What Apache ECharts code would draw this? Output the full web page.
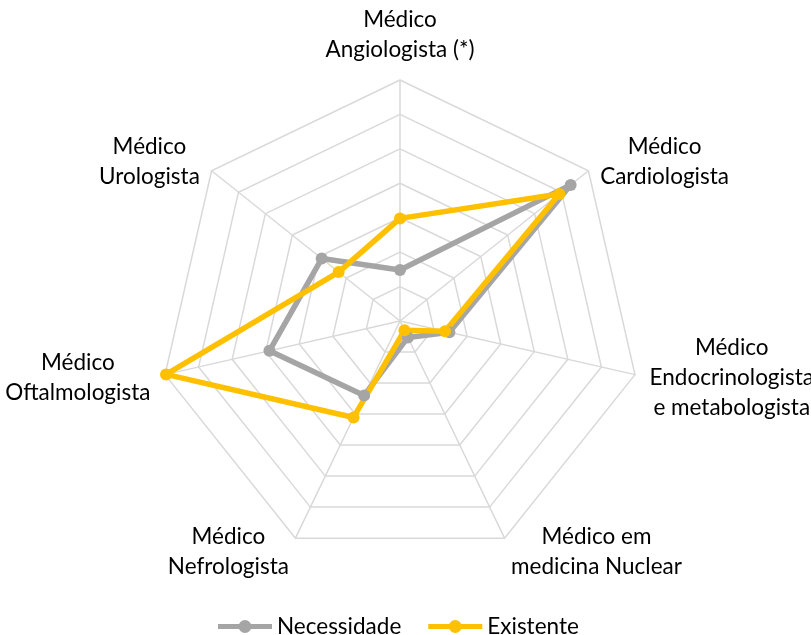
<!DOCTYPE html>
<html><head><meta charset="utf-8">
<script src="https://cdn.jsdelivr.net/npm/echarts@6/dist/echarts.min.js"></script>
<style>html,body{margin:0;padding:0;background:#fff}#c{width:811px;height:635px}</style>
</head><body><div id="c"></div>
<script>
// Categories in ECharts order (counter-clockwise from top)
const categories = [
  'Médico\nAngiologista (*)',
  'Médico\nUrologista',
  'Médico\nOftalmologista',
  'Médico\nNefrologista',
  'Médico em\nmedicina Nuclear',
  'Médico\nEndocrinologista\ne metabologista',
  'Médico\nCardiologista'
];
const necessidade = [1.48, 2.91, 3.89, 2.40, 0.53, 1.47, 6.34];
const existente   = [2.98, 2.28, 6.97, 3.11, 0.30, 1.34, 5.92];
const seriesNames = ['Necessidade', 'Existente'];
const axisMax = 7;

const ctx = document.createElement('canvas').getContext('2d');
ctx.font = '100px Lato';
const fs = Math.round(150 / ctx.measureText('Angiologista (*)').width * 100 * 2) / 2;

const legendIcon = 'path://M0,4H54V9H0Z M33.5,6.5A6.5,6.5,0,1,1,20.5,6.5A6.5,6.5,0,1,1,33.5,6.5Z';
const colors = ['#A5A5A5', '#FFC000'];

const chart = echarts.init(document.getElementById('c'));
chart.setOption({
  animation: false,
  color: colors,
  textStyle: { fontFamily: 'Lato' },
  legend: {
    bottom: -3,
    left: 218,
    padding: 0,
    itemWidth: 54,
    itemHeight: 13,
    itemGap: 27,
    textStyle: { fontSize: fs, color: '#000', fontFamily: 'Lato' },
    data: seriesNames.map((n) => ({ name: n, icon: legendIcon }))
  },
  radar: {
    center: [400, 321],
    radius: 241,
    startAngle: 90,
    splitNumber: 7,
    shape: 'polygon',
    nameGap: 15,
    indicator: categories.map((c) => ({ name: c, min: 0, max: axisMax })),
    axisName: {
      color: '#000',
      fontSize: fs,
      fontFamily: 'Lato',
      lineHeight: 30,
      formatter: (name) => name.split('\n').map((l) => '{c|' + l + '}').join('\n'),
      rich: { c: { align: 'center', fontSize: fs, lineHeight: 30, fontFamily: 'Lato', color: '#000' } }
    },
    splitLine: { lineStyle: { color: '#D9D9D9', width: 1.5 } },
    splitArea: { show: false },
    axisLine: { lineStyle: { color: '#D9D9D9', width: 1.5 } },
    axisTick: { show: false },
    axisLabel: { show: false }
  },
  series: [{
    type: 'radar',
    symbol: 'circle',
    symbolSize: 12,
    data: [
      { name: seriesNames[0], value: necessidade,
        lineStyle: { color: colors[0], width: 5.5 }, itemStyle: { color: colors[0] } },
      { name: seriesNames[1], value: existente,
        lineStyle: { color: colors[1], width: 5.5 }, itemStyle: { color: colors[1] } }
    ]
  }]
});
</script></body></html>
